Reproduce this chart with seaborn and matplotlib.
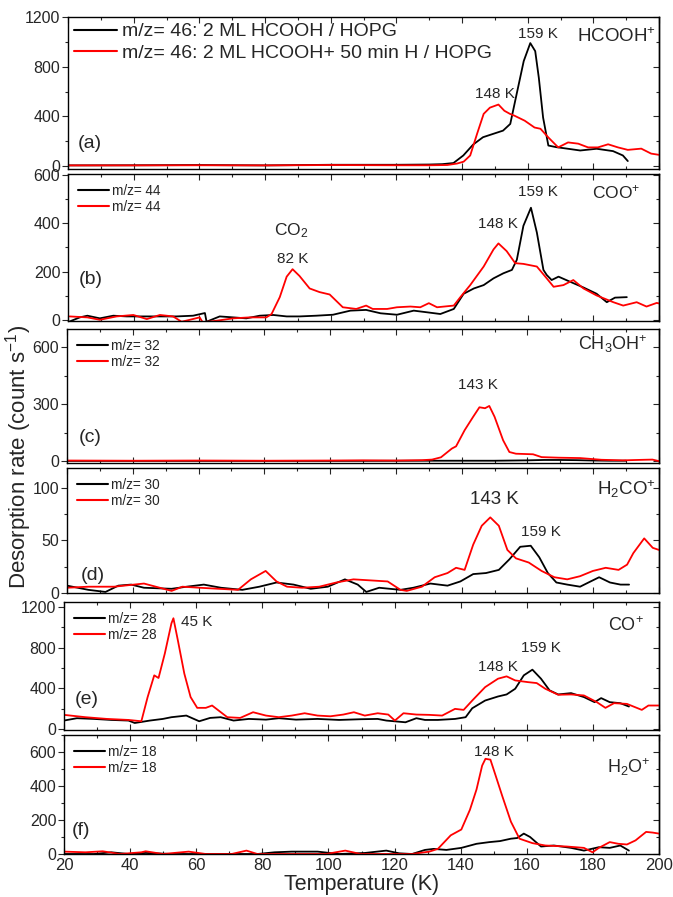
import matplotlib
matplotlib.use("Agg")
import matplotlib.pyplot as plt
from matplotlib.ticker import MultipleLocator
import seaborn as sns
import pandas as pd

sns.set_style("ticks")
plt.rcParams['font.family'] = ['Liberation Sans', 'DejaVu Sans']
plt.rcParams['mathtext.fontset'] = 'custom'
plt.rcParams['mathtext.rm'] = 'Liberation Sans'
plt.rcParams['mathtext.it'] = 'Liberation Sans:italic'
plt.rcParams['mathtext.bf'] = 'Liberation Sans:bold'

# ---------------- data ----------------
# (a) m/z = 46
T_a_black = [20, 40, 60, 80, 100, 120, 130, 134, 137.4, 140.4, 143.4, 146.4, 149.5, 152.5, 154.7, 156.2, 158.8,
             160.8, 162.3, 163.4, 164.7, 166.3, 168.7, 172, 176, 181, 186, 189, 190.5]
a_black = [5, 6, 8, 5, 10, 10, 12, 15, 24, 85, 173, 232, 259, 285, 339, 525, 845,
           990, 925, 710, 390, 165, 152, 140, 125, 139, 120, 85, 40]
T_a_red = [20, 40, 60, 80, 100, 120, 130, 135.5, 138.5, 140.5, 142.5, 144.6, 146.6, 148.5, 151.1, 152.9, 154.6,
           156, 159.1, 162.1, 163.9, 166.3, 169.3, 172.3, 175.4, 178.4, 181.4, 184.5, 187.5, 190.5, 194.6, 197.6, 200]
a_red = [5, 5, 6, 5, 8, 6, 6, 8, 20, 35, 85, 260, 420, 470, 495, 445, 420,
         405, 365, 310, 300, 230, 150, 190, 180, 150, 150, 175, 150, 130, 140, 100, 90]

# (b) m/z = 44
T_b_black = [20.5, 23.6, 25.9, 29.7, 33.8, 37.9, 43, 48, 53, 58.1, 61.7, 62.2, 66.2, 70.3, 74.3, 78.4, 82.5, 86.6,
             90.5, 95.6, 100.7, 106, 110.8, 115.2, 120.2, 125.3, 129.4, 133.4, 137.5, 140.5, 143.6, 146.6, 149.6,
             152.6, 155.2, 156.7, 158.7, 161, 162.8, 164.8, 165.8, 167.3, 169.4, 172.9, 177, 181, 184.1, 186.6, 190.2]
b_black = [-7, 10, 17, 6, 17, 14, 14, 14, 14, 17, 28, -8, 14, 10, 6, 17, 20, 14,
           14, 17, 21, 38, 41, 27, 21, 38, 31, 24, 45, 108, 130, 144, 172,
           193, 207, 249, 390, 465, 362, 207, 186, 165, 179, 158, 134, 108, 73, 92, 94]
T_b_red = [20.5, 25.9, 29.7, 34.8, 39.9, 44, 48, 52, 54.6, 57.1, 60.1, 61, 65.2, 70.3, 75.3, 80.4, 82, 84.5, 86.6,
           88.4, 90.5, 93.6, 96.6, 99.7, 103.7, 107.8, 110.8, 112.8, 117.2, 120.2, 124.3, 127.3, 129.9, 132.4,
           137.5, 139.5, 142.5, 146.6, 149.6, 151.1, 153.6, 156.2, 158.7, 162.8, 165.8, 167.9, 170.9, 173.9, 177,
           181, 186.1, 189.1, 193.2, 196.2, 199.3, 200]
b_red = [14, 10, 0, 14, 20, 3, 20, 14, -8, 0, 10, -10, -4, 6, 10, 10, 24, 94, 179,
         210, 182, 130, 115, 105, 52, 45, 59, 45, 45, 52, 55, 52, 69, 52,
         59, 94, 144, 221, 292, 317, 285, 235, 232, 221, 172, 137, 144, 165, 130,
         101, 73, 59, 73, 55, 70, 68]

# (c) m/z = 32
T_c_black = [20, 60, 100, 130, 150, 160, 165, 170, 175, 180, 185, 190]
c_black = [1, 1, 1, 2, 2, 4, 6, 6, 5, 3, 2, 2]
T_c_red = [20, 40, 60, 80, 100, 110, 120, 128, 131, 133.7, 137, 138.3, 140.9, 143.5, 145.4, 147.1, 148.4, 150,
           152.6, 154.5, 156.5, 161.7, 164.3, 169.5, 176, 182.5, 189, 195.5, 198, 200]
c_red = [3, 2, 3, 2, 3, 4, 3, 5, 8, 20, 66, 78, 163, 234, 284, 279, 291, 234,
         110, 48, 39, 36, 21, 18, 16, 7, 4, 7, 8, 0]

# (d) m/z = 30
T_d_black = [20, 26.5, 31.7, 35.6, 39.5, 43.4, 51.8, 56.4, 61.6, 66.8, 73.3, 78.5, 83.7, 88.9, 94.1, 99.3, 104.5,
             108.4, 111, 114.9, 121.4, 125.3, 130.5, 135.7, 139.6, 143.5, 147.4, 151.3, 154.5, 157.8, 161, 163.6,
             166.2, 168.8, 172.1, 176, 179.2, 181.8, 185.1, 188.3, 190.9]
d_black = [7, 3, 1, 7, 8, 5, 4, 6, 8, 5, 3, 6, 10, 8, 4, 6, 13,
           8, 1, 5, 3, 5, 9, 7, 11, 18, 19, 22, 32, 44, 45, 34,
           19, 10, 8, 6, 11, 15, 10, 8, 8]
T_d_red = [20, 26.5, 34.3, 43.4, 51.8, 55.1, 60.3, 72, 75.9, 80.4, 83.7, 86.9, 91.5, 96.7, 101.9, 107.1, 112.3,
           117.5, 121.4, 123.3, 127.9, 131.8, 135.7, 138.3, 140.9, 143.5, 146.1, 148.7, 151.3, 153.9, 156.5,
           160.4, 164.3, 168.2, 172.1, 176, 179.9, 183.8, 187.7, 190.3, 192.2, 195.5, 198.1, 200]
d_red = [5, 6, 6, 9, 2, 6, 5, 3, 13, 21, 11, 6, 5, 6, 10, 13, 12,
         11, 3, 2, 6, 15, 19, 24, 22, 46, 64, 72, 64, 41, 33,
         29, 21, 15, 13, 16, 21, 24, 22, 27, 38, 52, 43, 41]

# (e) m/z = 28
T_e_black = [20, 23.9, 29.1, 34.3, 39.5, 41.4, 46, 49.9, 52.5, 57, 60.9, 64.2, 67.4, 71.3, 75.9, 81.1, 85, 90.2,
             96.7, 103.2, 109.7, 114.9, 117.5, 123.3, 126.6, 129.2, 133.1, 138.3, 141.5, 143.5, 147.4, 151.3,
             153.9, 156.5, 159.1, 161.7, 164.3, 166.9, 169.5, 173.4, 177.3, 180.5, 182.5, 185.1, 188.3, 190.9]
e_black = [83, 106, 99, 89, 83, 59, 83, 99, 116, 132, 76, 109, 116, 83, 99, 92, 106, 92,
           99, 89, 96, 99, 83, 66, 106, 89, 89, 99, 116, 204, 280, 320,
           340, 396, 528, 584, 495, 380, 340, 353, 314, 264, 304, 264, 254, 221]
T_e_red = [20, 26.5, 33, 39.5, 43.4, 45.3, 47.3, 48.6, 50.5, 52.5, 53.1, 54.4, 56.4, 58.3, 60.3, 62.9, 64.8, 66.8,
           69.4, 73.3, 77.2, 81.1, 85, 88.9, 92.8, 96.7, 100.6, 104.5, 107.7, 111, 114.9, 118.1, 120.1, 122.7,
           126.6, 130.5, 134.4, 138.3, 140.9, 143.5, 147.4, 151.3, 153.9, 156.5, 160.4, 163, 165.6, 169.5, 173.4,
           177.3, 181.2, 183.8, 186.4, 190.3, 194.8, 196.8, 200]
e_red = [139, 116, 99, 89, 76, 314, 528, 502, 743, 1040, 1090, 880, 545, 314, 208, 208, 231, 181,
         116, 109, 165, 132, 116, 132, 155, 132, 125, 142, 165, 132, 155, 142, 83, 155,
         142, 139, 132, 198, 188, 280, 412, 495, 518, 478, 461, 452, 396, 337, 340,
         330, 264, 208, 254, 247, 188, 231, 231]

# (f) m/z = 18
T_f_black = [20, 29.1, 34.3, 39.5, 44.7, 52.5, 65.5, 78.5, 83.7, 88.9, 96.7, 103.2, 111, 117.5, 121.4, 125.3,
             129.2, 131.8, 135.7, 140.2, 144.8, 148.7, 151.9, 155.2, 157.1, 159.1, 161, 164.3, 168.2, 173.4,
             177.3, 181.8, 185.1, 188.3, 190.9]
f_black = [0, 0, 10, 0, 6, 0, 0, 0, 10, 14, 14, 0, 6, 20, 4, 0,
           24, 30, 24, 36, 60, 70, 76, 90, 94, 120, 100, 44, 50, 36,
           20, 40, 36, 50, 20]
T_f_red = [20, 26.5, 31.7, 36.9, 43.4, 44.7, 49.9, 57.7, 62.9, 70.7, 75.2, 78.5, 88.9, 99.3, 105.1, 109.7, 117.5,
           125.3, 130.5, 133.1, 137, 140.2, 142.8, 144.8, 146.5, 147.5, 149, 150.6, 152.6, 155.2, 157.8, 161.7,
           165.6, 172.1, 177.3, 179.9, 181.8, 185.1, 187.7, 190.3, 192.9, 196.1, 198.1, 200]
f_red = [14, 10, 16, 0, 10, 16, 0, 14, 0, 0, 20, 0, 0, 0, 20, 0, 0,
         0, 14, 30, 110, 144, 260, 380, 520, 560, 555, 460, 340, 190, 90, 64,
         50, 44, 36, 10, 36, 70, 60, 56, 80, 130, 126, 120]

legend_a = ["m/z= 46: 2 ML HCOOH / HOPG", "m/z= 46: 2 ML HCOOH+ 50 min H / HOPG"]
mz_labels = ["m/z= 44", "m/z= 32", "m/z= 30", "m/z= 28", "m/z= 18"]
species = ["HCOOH$^{+}$", "COO$^{+}$", "CH$_3$OH$^{+}$", "H$_2$CO$^{+}$", "CO$^{+}$", "H$_2$O$^{+}$"]
panel_letters = ["(a)", "(b)", "(c)", "(d)", "(e)", "(f)"]

# ---------------- layout ----------------
W, H = 673, 897
fig = plt.figure(figsize=(W / 100, H / 100), dpi=100)

# (left_px, top_px, bottom_px)
boxes = [(68, 17, 169), (68, 174, 321), (67, 329, 463), (67, 468, 593), (64, 602, 730), (64, 735, 854)]
right_px = 659
ylims = [(-24, 1200), (-5, 605), (-10, 697), (0, 119), (-10, 1250), (0, 700)]
ymajor = [400, 200, 300, 50, 400, 200]
yminor = [200, 100, 150, 25, 200, 100]

series = [
    (T_a_black, a_black, T_a_red, a_red),
    (T_b_black, b_black, T_b_red, b_red),
    (T_c_black, c_black, T_c_red, c_red),
    (T_d_black, d_black, T_d_red, d_red),
    (T_e_black, e_black, T_e_red, e_red),
    (T_f_black, f_black, T_f_red, f_red),
]

axes = []
for i, ((lp, tp, bp), (tb, yb, tr, yr)) in enumerate(zip(boxes, series)):
    ax = fig.add_axes([lp / W, 1 - bp / H, (right_px - lp) / W, (bp - tp) / H])
    axes.append(ax)
    if i == 0:
        lb, lr = legend_a
    else:
        lb = lr = mz_labels[i - 1]
    dfb = pd.DataFrame({"T": tb, "rate": yb})
    dfr = pd.DataFrame({"T": tr, "rate": yr})
    sns.lineplot(data=dfb, x="T", y="rate", ax=ax, color="black", lw=1.3, label=lb,
                 estimator=None, sort=False)
    sns.lineplot(data=dfr, x="T", y="rate", ax=ax, color="#ff0000", lw=1.3, label=lr,
                 estimator=None, sort=False)
    ax.set_xlim(20, 200)
    ax.set_ylim(*ylims[i])
    ax.set_xlabel("")
    ax.set_ylabel("")
    ax.xaxis.set_major_locator(MultipleLocator(20))
    ax.xaxis.set_minor_locator(MultipleLocator(10))
    ax.yaxis.set_major_locator(MultipleLocator(ymajor[i]))
    ax.yaxis.set_minor_locator(MultipleLocator(yminor[i]))
    ax.tick_params(axis='x', which='both', direction='in', top=True, bottom=True,
                   labelbottom=(i == 5), labelsize=12, pad=3)
    ax.tick_params(axis='x', which='major', length=4, width=0.8)
    ax.tick_params(axis='x', which='minor', length=2, width=0.8)
    ax.tick_params(axis='y', which='both', direction='out', left=True, right=False,
                   labelsize=11.5, pad=1.5)
    ax.tick_params(axis='y', which='major', length=4, width=0.8)
    ax.tick_params(axis='y', which='minor', length=2, width=0.8)
    sec = ax.secondary_yaxis('right')
    sec.yaxis.set_major_locator(MultipleLocator(ymajor[i]))
    sec.yaxis.set_minor_locator(MultipleLocator(yminor[i]))
    sec.tick_params(axis='y', which='both', direction='in', labelright=False)
    sec.tick_params(axis='y', which='major', length=4, width=0.8)
    sec.tick_params(axis='y', which='minor', length=2, width=0.8)
    for s in list(ax.spines.values()) + [sec.spines['right']]:
        s.set_linewidth(1.0)
        s.set_color('black')
    if i == 0:
        ax.legend(loc='upper left', frameon=False, fontsize=14, handlelength=2.2,
                  handletextpad=0.3, borderaxespad=0.15, borderpad=0.15, labelspacing=0.2)
    else:
        ax.legend(loc='upper left', frameon=False, fontsize=9.8, handlelength=2.3,
                  handletextpad=0.25, borderaxespad=0.4, borderpad=0.3, labelspacing=0.2)
    for line in ax.get_legend().get_lines():
        line.set_linewidth(1.5)

# panel letters
letter_pos = [(26.5, 184), (27, 167), (27, 126), (28, 17), (27, 286), (25, 138)]
for ax, lab, (x, y) in zip(axes, panel_letters, letter_pos):
    ax.text(x, y, lab, fontsize=14, ha='center', va='center')

# species labels
species_pos = [(187, 1040), (187, 530), (186, 615), (190, 99), (190, 1020), (191, 510)]
species_fs = [13.5, 12.5, 13, 13.5, 13, 13]
for ax, lab, (x, y), fs in zip(axes, species, species_pos, species_fs):
    ax.text(x, y, lab, fontsize=fs, ha='center', va='center')

# peak annotations
axes[0].text(163, 1062, "159 K", fontsize=11, ha='center', va='center')
axes[0].text(150, 580, "148 K", fontsize=11, ha='center', va='center')
axes[1].text(163, 531, "159 K", fontsize=11, ha='center', va='center')
axes[1].text(151, 397, "148 K", fontsize=11, ha='center', va='center')
axes[1].text(88, 369, "CO$_2$", fontsize=12.5, ha='center', va='center')
axes[1].text(88.5, 252, "82 K", fontsize=11, ha='center', va='center')
axes[2].text(145, 403, "143 K", fontsize=11, ha='center', va='center')
axes[3].text(150, 89, "143 K", fontsize=13.5, ha='center', va='center')
axes[3].text(164, 58, "159 K", fontsize=11, ha='center', va='center')
axes[4].text(55.5, 1050, "45 K", fontsize=11, ha='left', va='center')
axes[4].text(164.3, 797, "159 K", fontsize=11, ha='center', va='center')
axes[4].text(151.3, 613, "148 K", fontsize=11, ha='center', va='center')
axes[5].text(150, 600, "148 K", fontsize=11, ha='center', va='center')

fig.text(19 / W, 1 - 457 / H, "Desorption rate (count s$^{-1}$)", rotation=90,
         fontsize=16, ha='center', va='center')
fig.text(362 / W, 1 - 884 / H, "Temperature (K)", fontsize=15.5, ha='center', va='center')

fig.savefig("out.png", dpi=100)
